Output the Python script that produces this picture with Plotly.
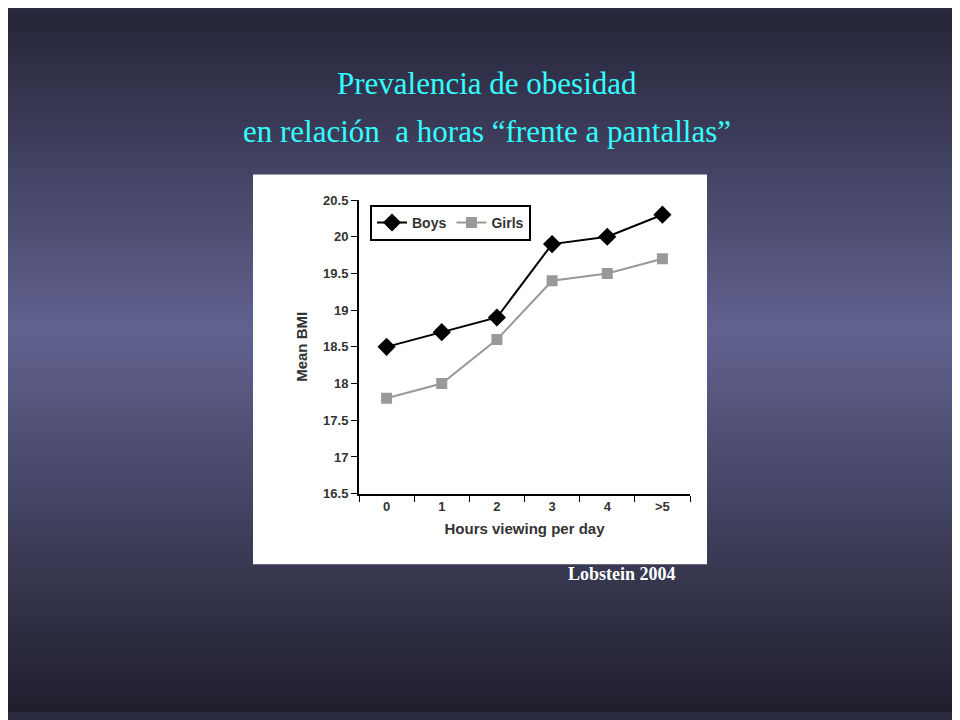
import plotly.graph_objects as go

hours = ["0", "1", "2", "3", "4", ">5"]
boys = [18.5, 18.7, 18.9, 19.9, 20.0, 20.3]
girls = [17.8, 18.0, 18.6, 19.4, 19.5, 19.7]
y_ticks = [16.5, 17, 17.5, 18, 18.5, 19, 19.5, 20, 20.5]

# page has an 8px body margin, so the figure is 952x712 and sits at (8, 8)
W, H, OFF = 952, 712, 8


def px(x):
    return (x - OFF) / W


def py(y):
    return 1 - (y - OFF) / H


def grad(t):
    # dark top/bottom, lighter purple around 45% height
    top, mid, bot = (38, 38, 58), (98, 98, 144), (30, 30, 44)
    if t < 0.45:
        a, b, f = top, mid, t / 0.45
    else:
        a, b, f = mid, bot, (t - 0.45) / 0.55
    return "rgb(%d,%d,%d)" % tuple(round(a[i] + (b[i] - a[i]) * f) for i in range(3))


shapes = []
n = 90
for i in range(n):
    shapes.append(dict(type="rect", xref="paper", yref="paper", layer="below",
                       x0=0, x1=1, y0=1 - (i + 1) / n, y1=1 - i / n + 0.002,
                       fillcolor=grad(i / n), line_width=0))
# white chart panel
shapes.append(dict(type="rect", xref="paper", yref="paper", layer="below",
                   x0=px(253), x1=px(707), y0=py(569), y1=py(171),
                   fillcolor="white", line_width=0))

fig = go.Figure()
fig.add_trace(go.Scatter(x=hours, y=boys, name="<b>Boys</b>", mode="lines+markers",
                         line=dict(color="black", width=2),
                         marker=dict(symbol="diamond", size=14, color="black")))
fig.add_trace(go.Scatter(x=hours, y=girls, name="<b>Girls</b>", mode="lines+markers",
                         line=dict(color="#999999", width=2),
                         marker=dict(symbol="square", size=11, color="#999999")))

fig.update_layout(
    width=W, height=H, margin=dict(l=0, r=0, t=0, b=0),
    paper_bgcolor="#2a2a40", plot_bgcolor="white", shapes=shapes,
    font=dict(family="Liberation Sans", size=13, color="#333"),
    xaxis=dict(domain=[px(359), px(690)], type="category", range=[-0.5, 5.5],
               tickson="boundaries", ticks="outside", ticklen=6, tickcolor="black",
               tickprefix="<b>", ticksuffix="</b>",
               showline=True, linecolor="black", linewidth=2, showgrid=False,
               title=dict(text="<b>Hours viewing per day</b>", standoff=10,
                          font=dict(family="Liberation Sans", size=15, color="#333"))),
    yaxis=dict(domain=[py(497), py(197)], range=[16.5, 20.5],
               tickvals=y_ticks, ticktext=[f"<b>{v:g}</b>" for v in y_ticks],
               ticks="outside", ticklen=6, tickcolor="black",
               showline=True, linecolor="black", linewidth=2, showgrid=False,
               title=dict(text="<b>Mean BMI</b>", standoff=12,
                          font=dict(family="Liberation Sans", size=15, color="#333"))),
    legend=dict(orientation="h", x=px(370), y=py(202), xanchor="left", yanchor="top",
                bgcolor="white", bordercolor="black", borderwidth=2,
                font=dict(family="Liberation Sans", size=14, color="#333"),
                itemwidth=30),
    showlegend=True,
    annotations=[
        dict(text="Prevalencia de obesidad", x=px(487), y=py(78),
             xref="paper", yref="paper", showarrow=False, yanchor="middle",
             font=dict(family="Liberation Serif", size=31, color="#33ffff")),
        dict(text="en relación  a horas “frente a pantallas”", x=px(487), y=py(127),
             xref="paper", yref="paper", showarrow=False, yanchor="middle",
             font=dict(family="Liberation Serif", size=31, color="#33ffff")),
        dict(text="<b>Lobstein 2004</b>", x=px(622), y=py(591),
             xref="paper", yref="paper", showarrow=False,
             font=dict(family="Liberation Serif", size=18, color="white")),
    ],
)

fig.write_html("out.html")
